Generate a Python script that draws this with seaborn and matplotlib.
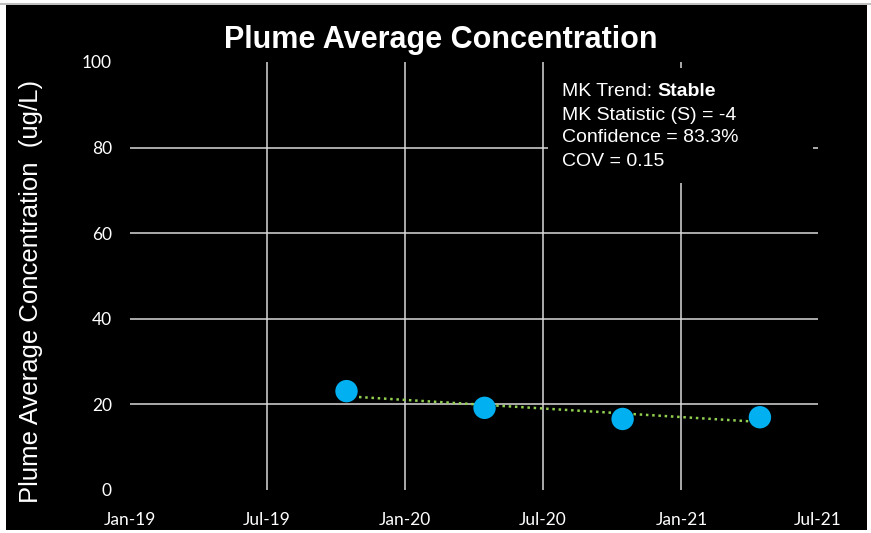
import numpy as np
import pandas as pd
import matplotlib
matplotlib.use("Agg")
import matplotlib.pyplot as plt
import matplotlib.dates as mdates
from matplotlib.patches import Rectangle
import seaborn as sns

# ---- data ----
sample_dates = ["2019-10-15", "2020-04-15", "2020-10-15", "2021-04-15"]
avg_conc = [23.1, 19.2, 16.6, 17.0]
trend_dates = ["2019-10-15", "2021-04-15"]
trend_vals = [21.9, 15.9]
y_ticks = [0, 20, 40, 60, 80, 100]
x_tick_dates = ["2019-01-01", "2019-07-01", "2020-01-01", "2020-07-01", "2021-01-01", "2021-07-01"]
stats_lines = ["MK Statistic (S) = -4", "Confidence = 83.3%", "COV = 0.15"]
trend_label = "MK Trend: "
trend_result = "Stable"

df = pd.DataFrame({"date": pd.to_datetime(sample_dates), "conc": avg_conc})
tdf = pd.DataFrame({"date": pd.to_datetime(trend_dates), "val": trend_vals})

sns.set_style("dark")
plt.rcParams["font.family"] = ["Liberation Sans", "DejaVu Sans"]

fig = plt.figure(figsize=(8.71, 5.33), dpi=100, facecolor="white")
fig.patches.append(Rectangle((6 / 871, 3 / 533), 861 / 871, 526 / 533, transform=fig.transFigure,
                             facecolor="black", edgecolor="none", zorder=-10))
fig.patches.append(Rectangle((0, 1 - 4.5 / 533), 1, 1.2 / 533, transform=fig.transFigure,
                             facecolor="#bfbfbf", edgecolor="none", zorder=-10))

ax = fig.add_axes([130 / 871, 1 - 490 / 533, 688 / 871, 428 / 533])
ax.set_facecolor("black")
ax.set_zorder(1)

sns.lineplot(data=tdf, x="date", y="val", ax=ax, color="#92D050", linewidth=1.8,
             linestyle=(0, (1, 1.5)), zorder=3)
sns.scatterplot(data=df, x="date", y="conc", ax=ax, color="#00B0F0", s=260,
                edgecolor="none", zorder=4)

ax.set_xlim(pd.Timestamp(x_tick_dates[0]), pd.Timestamp(x_tick_dates[-1]))
ax.set_ylim(y_ticks[0], y_ticks[-1])
ax.set_xticks(pd.to_datetime(x_tick_dates))
ax.xaxis.set_major_formatter(mdates.DateFormatter("%b-%y"))
ax.set_yticks(y_ticks)

ax.grid(True, color="#d9d9d9", linewidth=1.1)
ax.set_axisbelow(True)
for t in ax.yaxis.get_major_ticks()[0::len(y_ticks) - 1]:
    t.gridline.set_visible(False)
xt = ax.xaxis.get_major_ticks()
xt[0].gridline.set_visible(False)
xt[-1].gridline.set_visible(False)

for s in ax.spines.values():
    s.set_visible(False)
ax.tick_params(axis="both", length=0, colors="white", labelsize=12.5)
ax.tick_params(axis="y", pad=13)
ax.tick_params(axis="x", pad=15.5)
for lab in ax.get_xticklabels() + ax.get_yticklabels():
    lab.set_fontfamily(["Lato", "DejaVu Sans"])

ax.set_xlabel("")
ax.set_ylabel("Plume Average Concentration  (ug/L)", color="white", fontsize=18.5)
ax.yaxis.set_label_coords(-0.126, 0.463)

fig.text(441 / 871, 1 - 40 / 533, "Plume Average Concentration", color="white",
         fontsize=22, fontweight="bold", ha="center", va="center")

# stats box
ax.add_patch(Rectangle(((548 - 130) / 688, (490 - 183) / 428), 265 / 688, 115 / 428,
                       transform=ax.transAxes, facecolor="black", edgecolor="none", zorder=2))
x0 = (562 - 130) / 688
fs = 14
t1 = ax.text(x0, (490 - 92) / 428, trend_label, transform=ax.transAxes, color="white",
             fontsize=fs, va="center", ha="left", zorder=5)
ax.annotate(trend_result, xy=(1, 0.5), xycoords=t1, va="center", ha="left",
            color="white", fontsize=fs, fontweight="bold", zorder=5)
for i, line in enumerate(stats_lines):
    ax.text(x0, (490 - 92 - 23 * (i + 1)) / 428, line, transform=ax.transAxes,
            color="white", fontsize=fs, va="center", ha="left", zorder=5)

fig.savefig("out.png", dpi=100, facecolor=fig.get_facecolor())
